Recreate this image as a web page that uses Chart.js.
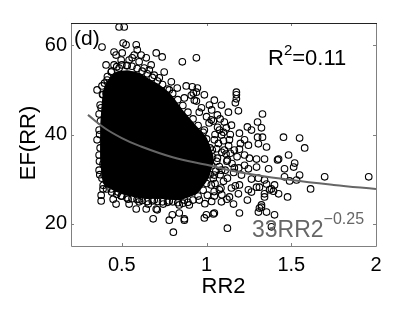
<!DOCTYPE html>
<html>
<head>
<meta charset="utf-8">
<script src="https://cdn.jsdelivr.net/npm/chart.js@4.4.1/dist/chart.umd.min.js"></script>
<style>
  body { margin: 0; background: #fff; }
  #wrap { width: 415px; height: 313px; position: relative; }
</style>
</head>
<body>
<div id="wrap"><canvas id="chart"></canvas></div>
<script>
// scattered points (RR2, EF(RR))
const pointsX = [
  0.484, 0.514, 0.383, 0.508, 0.454, 0.466, 0.407, 0.454, 0.502, 0.525, 0.585, 0.591, 0.573, 0.644, 0.673,
  0.703, 0.738, 0.857, 0.940, 0.721, 0.792, 0.880, 0.916, 0.946, 0.940, 0.354, 0.407, 0.366, 0.354, 0.366,
  0.543, 0.602, 0.531, 0.632, 0.484, 0.437, 0.496, 0.561, 0.614, 0.662, 0.691, 0.750, 0.780, 0.827, 0.413, 0.383,
  1.176, 1.176, 1.176, 1.170, 1.188, 1.129, 1.330, 1.301, 1.324, 1.301, 1.330, 1.454, 1.549, 1.579, 1.241,
  1.194, 1.076, 1.117, 0.922,
  1.425, 1.484, 1.520, 1.460, 1.514, 1.549, 1.460, 1.490, 1.531, 1.697, 1.957, 1.614, 1.401, 1.395, 1.425,
  1.478, 1.401, 1.419, 1.306, 1.295, 1.241, 1.312, 1.265, 1.354, 1.372, 1.342, 1.324, 1.354, 1.194, 1.123,
  1.383, 1.046, 0.999,
  1.306, 1.354, 1.247, 1.194, 1.224, 1.295, 1.342, 1.366, 1.295, 1.247, 1.265, 1.342, 1.312, 1.383, 1.342,
  1.324, 1.306, 1.040, 0.987, 0.869, 0.804, 1.135, 1.088, 1.159, 1.247, 1.188, 1.194,
  0.389, 0.395, 0.389, 0.378, 0.378, 0.449, 0.466, 0.537, 0.543, 0.585, 0.644, 0.703, 0.685, 0.780, 0.419,
  0.478, 0.602, 0.656, 0.744, 0.437, 0.798, 0.869, 0.839, 0.709,
  0.987, 1.028, 0.957, 1.017, 1.064, 1.105, 1.046, 1.088, 1.135, 1.164, 1.105, 1.064, 1.123, 1.164, 1.088,
  1.046, 1.123, 1.028, 1.076, 1.005, 0.957, 1.046, 1.224, 1.253, 1.206, 1.147, 1.017, 1.034, 1.224, 1.265,
  1.147, 0.928, 0.869, 0.987, 1.046, 1.088, 0.898, 0.839,
  0.366, 0.372, 0.389, 0.425, 0.366, 0.383, 0.496, 0.602, 0.691, 0.780, 0.869,
  // circles crowding the edge of the black core
  0.370, 0.368, 0.372, 0.369, 0.374, 0.378, 0.386, 0.398, 0.415, 0.440, 0.470, 0.500, 0.530, 0.560, 0.590,
  0.620, 0.650, 0.680, 0.710, 0.740, 0.770, 0.800, 0.830, 0.860, 0.890, 0.920, 0.950, 0.980, 1.000, 1.020,
  1.035, 1.030, 1.020, 1.000, 0.980, 0.950, 0.920, 0.890, 0.860, 0.830, 0.800, 0.770, 0.740, 0.710, 0.680,
  0.650, 0.620, 0.590, 0.560, 0.530, 0.500, 0.470, 0.440, 0.410, 0.390,
  // dense right flank of the core
  1.050, 1.070, 1.040, 1.090, 1.060, 1.080, 1.100, 1.050, 1.120, 1.150, 1.130, 1.180, 1.160, 1.190, 1.100,
  1.140, 1.000, 0.970, 1.030, 0.940, 0.910, 1.080, 1.200, 1.170, 1.090, 1.120, 1.030, 0.990,
  1.060, 1.075, 1.055, 1.100, 1.115, 1.065, 1.040, 1.085, 1.110, 1.140, 1.015, 1.045
];
const pointsY = [
  64.1, 64.1, 59.6, 60.5, 58.5, 57.8, 55.6, 55.6, 58.3, 60.1, 60.1, 59.0, 57.8, 57.2, 55.6,
  58.3, 57.4, 56.3, 57.2, 52.7, 51.8, 50.9, 50.7, 50.4, 49.5, 50.0, 49.3, 44.6, 38.8, 35.4,
  56.7, 56.3, 55.4, 54.9, 54.9, 54.0, 56.7, 57.2, 57.8, 54.5, 53.3, 54.0, 50.0, 50.4, 52.2, 50.9,
  49.5, 48.9, 48.0, 47.1, 45.3, 45.0, 44.6, 42.8, 41.5, 39.4, 39.4, 39.4, 39.2, 37.0, 41.7,
  40.3, 41.0, 41.5, 49.3,
  34.5, 35.4, 33.6, 32.3, 32.7, 30.9, 30.5, 29.6, 29.8, 30.5, 30.5, 27.8, 28.7, 27.3, 26.7,
  26.0, 22.0, 34.3, 30.2, 28.2, 25.3, 23.5, 27.1, 28.9, 27.6, 26.0, 24.2, 22.6, 22.4, 19.0,
  19.3, 22.4, 22.0,
  37.9, 37.2, 37.6, 36.7, 35.4, 34.5, 34.5, 32.3, 32.7, 32.3, 30.0, 29.8, 28.2, 27.8, 26.7,
  23.7, 22.6, 22.2, 21.3, 20.8, 18.1, 26.0, 24.9, 24.4, 27.6, 26.7, 28.7,
  33.4, 30.9, 27.8, 26.4, 25.1, 25.5, 24.4, 25.5, 24.4, 23.3, 23.3, 23.3, 21.1, 20.8, 28.9,
  27.1, 24.9, 24.4, 24.4, 27.8, 22.0, 21.1, 22.4, 23.1,
  41.0, 43.3, 45.0, 46.6, 44.4, 42.8, 38.8, 39.9, 38.8, 36.5, 36.5, 34.7, 34.3, 32.5, 32.0,
  30.9, 30.2, 28.7, 27.6, 26.4, 25.3, 26.2, 33.1, 34.7, 30.9, 28.0, 33.2, 36.5, 38.8, 41.0,
  42.1, 47.7, 48.2, 48.9, 47.7, 46.6, 24.2, 24.2,
  41.0, 46.6, 48.9, 51.3, 32.0, 30.2, 26.2, 25.5, 25.3, 25.1, 25.3,
  31.0, 34.0, 37.0, 40.0, 43.0, 46.0, 49.0, 51.5, 53.0, 54.2, 55.2, 55.6, 55.5, 55.3, 54.8,
  54.2, 53.6, 52.8, 52.0, 51.2, 50.2, 49.2, 47.8, 46.5, 45.0, 43.5, 42.0, 40.5, 39.0, 37.0,
  35.0, 33.0, 31.0, 29.0, 27.5, 26.2, 25.3, 24.8, 24.6, 24.7, 24.9, 24.8, 24.9, 25.0, 25.1,
  25.0, 25.2, 25.4, 25.6, 25.8, 26.2, 26.6, 27.1, 27.8, 28.6,
  40.0, 38.0, 43.0, 36.0, 34.0, 31.0, 29.5, 29.0, 34.0, 33.5, 37.5, 35.0, 31.5, 32.5, 40.5,
  40.0, 44.0, 46.0, 45.5, 47.5, 48.8, 43.5, 38.0, 28.5, 26.5, 25.5, 25.0, 24.5,
  36.8, 32.8, 31.8, 38.6, 35.6, 41.6, 30.2, 28.0, 32.0, 35.8, 42.6, 27.2
];

// outline of the solid black core where the circles merge
const coreX = [0.378, 0.389, 0.401, 0.431, 0.466, 0.531, 0.602, 0.662, 0.721, 0.792, 0.851, 0.928, 0.995,
  1.035, 1.010, 0.940, 0.839, 0.733, 0.632, 0.543, 0.454, 0.395, 0.378, 0.378];
const coreY = [42.1, 47.7, 50.4, 52.4, 53.8, 54.2, 53.6, 52.2, 50.9, 48.6, 45.5, 42.1, 39.2,
  35.0, 30.5, 26.9, 25.5, 25.8, 25.8, 26.4, 27.6, 29.1, 34.3, 42.1];

// fitted curve 33*RR2^-0.25
const fitX = [0.3, 0.4, 0.5, 0.6, 0.8, 1.0, 1.2, 1.5, 1.75, 2.0];
const fitY = [44.4, 41.4, 39.2, 37.5, 34.9, 33.2, 31.5, 29.8, 28.7, 27.8];

const xTicks = [0.5, 1, 1.5, 2];
const yTicks = [20, 40, 60];

const FONT = "'Liberation Sans', Arial, Helvetica, sans-serif";
const toXY = (xs, ys) => xs.map((x, i) => ({ x: x, y: ys[i] }));

const frame = {
  id: "frame",
  afterDraw(chart) {
    const ctx = chart.ctx;
    const a = chart.chartArea;
    const xs = chart.scales.x, ys = chart.scales.y;
    ctx.save();
    ctx.lineWidth = 1;
    ctx.strokeStyle = "#808080";
    ctx.beginPath();
    ctx.moveTo(a.left + 0.5, a.top);
    ctx.lineTo(a.left + 0.5, a.bottom + 0.5);
    ctx.lineTo(a.right + 0.5, a.bottom + 0.5);
    ctx.lineTo(a.right + 0.5, a.top);
    // inward ticks
    xTicks.forEach(v => {
      const p = Math.round(xs.getPixelForValue(v)) + 0.5;
      ctx.moveTo(p, a.bottom); ctx.lineTo(p, a.bottom - 3);
      ctx.moveTo(p, a.top); ctx.lineTo(p, a.top + 3);
    });
    yTicks.forEach(v => {
      const p = Math.round(ys.getPixelForValue(v)) + 0.5;
      ctx.moveTo(a.left, p); ctx.lineTo(a.left + 3, p);
      ctx.moveTo(a.right, p); ctx.lineTo(a.right - 3, p);
    });
    ctx.stroke();
    ctx.strokeStyle = "#222";
    ctx.beginPath();
    ctx.moveTo(a.left, a.top + 0.5);
    ctx.lineTo(a.right + 1, a.top + 0.5);
    ctx.stroke();

    // texts
    ctx.fillStyle = "#000";
    ctx.textBaseline = "alphabetic";
    ctx.textAlign = "left";
    ctx.font = "21px " + FONT;
    ctx.fillText("(d)", 74, 45);

    ctx.font = "22px " + FONT;
    ctx.fillText("R", 268, 65);
    let w = ctx.measureText("R").width;
    ctx.font = "15px " + FONT;
    ctx.fillText("2", 268 + w, 55);
    w += ctx.measureText("2").width;
    ctx.font = "22px " + FONT;
    ctx.fillText("=0.11", 268 + w, 65);

    ctx.fillStyle = "#666";
    ctx.font = "23px " + FONT;
    ctx.fillText("33RR2", 252, 237);
    w = ctx.measureText("33RR2").width;
    ctx.font = "16px " + FONT;
    ctx.fillText("\u22120.25", 252 + w, 224);

    ctx.fillStyle = "#000";
    ctx.font = "22px " + FONT;
    ctx.textAlign = "center";
    ctx.fillText("RR2", (a.left + a.right) / 2, 293);
    ctx.translate(35, 143);
    ctx.rotate(-Math.PI / 2);
    ctx.fillText("EF(RR)", 0, 0);
    ctx.restore();
  }
};

new Chart(document.getElementById("chart"), {
  type: "scatter",
  data: {
    datasets: [
      {
        label: "fit",
        data: toXY(fitX, fitY),
        showLine: true,
        borderColor: "#666666",
        borderWidth: 2,
        pointRadius: 0,
        tension: 0.4,
        fill: false
      },
      {
        label: "points",
        data: toXY(pointsX, pointsY),
        pointStyle: "circle",
        pointRadius: 3.3,
        pointBorderWidth: 1.1,
        pointBorderColor: "#000",
        pointBackgroundColor: "rgba(0,0,0,0)"
      },
      {
        label: "core",
        data: toXY(coreX, coreY),
        showLine: true,
        borderColor: "#000",
        borderWidth: 2,
        backgroundColor: "#000",
        pointRadius: 0,
        tension: 0.15,
        fill: "shape"
      }
    ]
  },
  options: {
    responsive: true,
    maintainAspectRatio: false,
    animation: false,
    layout: { padding: { top: 23, right: 39, left: 0, bottom: 0 } },
    plugins: {
      legend: { display: false },
      tooltip: { enabled: false }
    },
    scales: {
      x: {
        type: "linear",
        min: 0.2,
        max: 2,
        afterBuildTicks: s => { s.ticks = xTicks.map(v => ({ value: v })); },
        afterFit: s => { s.height = 67; },
        grid: { display: false, drawTicks: false },
        border: { display: false },
        ticks: {
          autoSkip: false,
          maxRotation: 0,
          padding: 7,
          color: "#000",
          font: { family: FONT, size: 20 },
          callback: v => String(v)
        }
      },
      y: {
        type: "linear",
        min: 15,
        max: 65,
        afterBuildTicks: s => { s.ticks = yTicks.map(v => ({ value: v })); },
        afterFit: s => { s.width = 71; },
        grid: { display: false, drawTicks: false },
        border: { display: false },
        ticks: {
          padding: 4,
          color: "#000",
          font: { family: FONT, size: 20 },
          callback: v => String(v)
        }
      }
    }
  },
  plugins: [frame]
});
</script>
</body>
</html>
